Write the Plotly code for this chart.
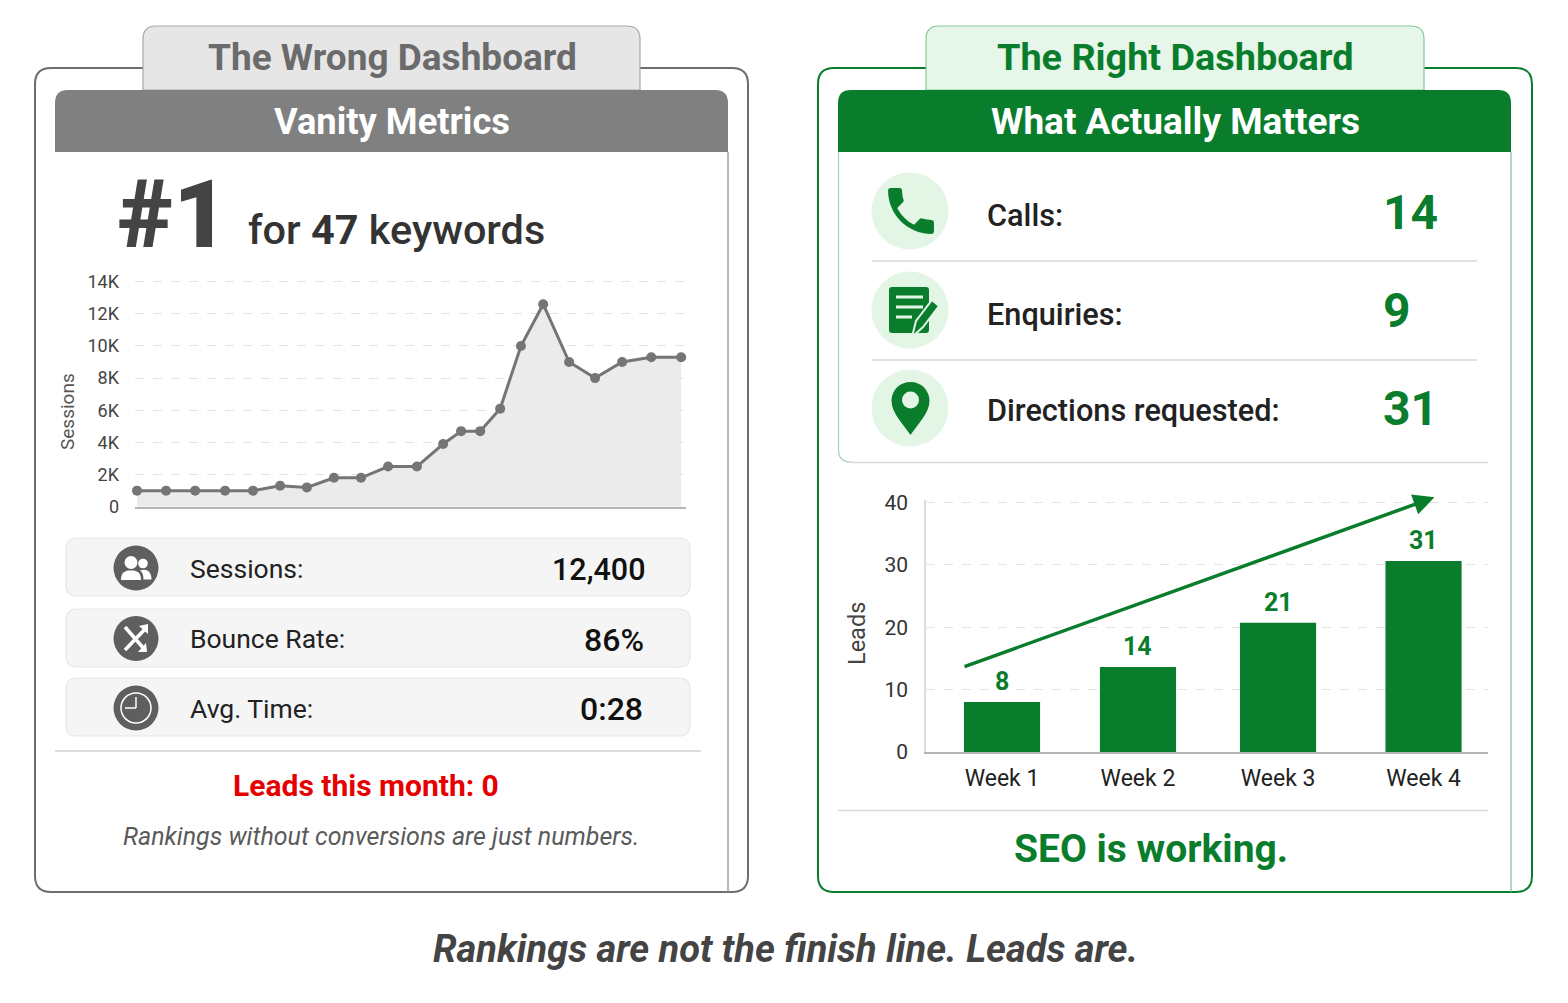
import re
import plotly.graph_objects as go

W, H = 1568, 1003

# ---- data ----
session_x = [0, 1.02, 2.04, 3.09, 4.07, 5.02, 5.96, 6.91, 7.86, 8.81, 9.82,
             10.74, 11.37, 12.04, 12.74, 13.47, 14.25, 15.16, 16.07, 17.02, 18.04, 19.09]
session_values = [1000, 1000, 1000, 1000, 1000, 1300, 1200, 1800, 1800, 2500, 2500,
                  3900, 4700, 4700, 6100, 10000, 12600, 9000, 8000, 9000, 9300, 9300]
session_ticks = [0, 2000, 4000, 6000, 8000, 10000, 12000, 14000]
session_ticktext = ["0", "2K", "4K", "6K", "8K", "10K", "12K", "14K"]

week_labels = ["Week 1", "Week 2", "Week 3", "Week 4"]
week_pos = [1, 2, 3.03, 4.1]
lead_heights = [8, 13.6, 20.7, 30.6]
lead_labels = ["8", "14", "21", "31"]
lead_ticks = [0, 10, 20, 30, 40]

left_rows = [("Sessions:", "12,400"), ("Bounce Rate:", "86%"), ("Avg. Time:", "0:28")]
right_rows = [("Calls:", "14"), ("Enquiries:", "9"), ("Directions requested:", "31")]

# ---- colours ----
GREEN = "#0a7d2c"
GREY = "#757575"
FONT = "Roboto"


def px(x):
    return x / W


def py(y):
    return 1 - y / H


def path(d):
    """Turn a path written in page pixels into one in paper coordinates."""
    toks = re.findall(r"[MLCQZ]|-?\d+\.?\d*", d)
    out, i = [], 0
    while i < len(toks):
        t = toks[i]
        if t in "MLCQZ":
            out.append(t)
            i += 1
        else:
            out.append(f"{px(float(t)):.5f},{py(float(toks[i + 1])):.5f}")
            i += 2
    return " ".join(out)


shapes = []


def add_path(d, fill=None, line=None, lw=1):
    shapes.append(dict(type="path", path=path(d), xref="paper", yref="paper", layer="below",
                       fillcolor=fill or "rgba(0,0,0,0)",
                       line=dict(color=line or "rgba(0,0,0,0)", width=lw if line else 0)))


def rrect(x0, y0, x1, y1, r, fill=None, line=None, lw=1, bottom=True):
    if bottom:
        d = (f"M{x0 + r} {y0} L{x1 - r} {y0} Q{x1} {y0} {x1} {y0 + r} L{x1} {y1 - r} "
             f"Q{x1} {y1} {x1 - r} {y1} L{x0 + r} {y1} Q{x0} {y1} {x0} {y1 - r} "
             f"L{x0} {y0 + r} Q{x0} {y0} {x0 + r} {y0} Z")
    else:
        d = (f"M{x0} {y1} L{x0} {y0 + r} Q{x0} {y0} {x0 + r} {y0} L{x1 - r} {y0} "
             f"Q{x1} {y0} {x1} {y0 + r} L{x1} {y1} Z")
    add_path(d, fill, line, lw)


def hline(x0, x1, y, color, lw=1.5):
    add_path(f"M{x0} {y} L{x1} {y}", None, color, lw)


def seg(x0, y0, x1, y1, color, lw=1.5):
    add_path(f"M{x0} {y0} L{x1} {y1}", None, color, lw)


def circle(cx, cy, r, fill=None, line=None, lw=1):
    shapes.append(dict(type="circle", xref="paper", yref="paper", layer="below",
                       x0=px(cx - r), x1=px(cx + r), y0=py(cy + r), y1=py(cy - r),
                       fillcolor=fill or "rgba(0,0,0,0)",
                       line=dict(color=line or "rgba(0,0,0,0)", width=lw if line else 0)))


annotations = []


def text(x, y, s, size, color, anchor="center", weight=400, italic=False, font=FONT, angle=0):
    annotations.append(dict(xref="paper", yref="paper", x=px(x), y=py(y), text=s, showarrow=False,
                            xanchor=anchor, yanchor="middle", align=anchor, textangle=angle,
                            font=dict(family=font, size=size, color=color, weight=weight,
                                      style="italic" if italic else "normal")))


# ---- left panel ----
rrect(35, 68, 748, 892, 16, "#ffffff", "#6e6e6e", 2)
seg(728, 152, 728, 892, "#8a8a8a", 1.2)
rrect(143, 26, 640, 90, 13, "#e6e6e6", "#a8a8a8", 1.2, bottom=False)
rrect(55, 90, 728, 152, 13, "#808080", None, bottom=False)
for y0, y1 in [(538, 596), (609, 667), (678, 736)]:
    rrect(66, y0, 690, y1, 11, "#f5f5f5", "#e8e8e8", 1.2)
hline(55, 701, 751, "#cfcfcf", 1.5)

DARK = "#5f5f5f"
for cy in (568, 638.5, 708):
    circle(136, cy, 22.5, DARK)
# people icon
circle(131, 562.5, 6.5, "#ffffff")
add_path("M121 580 C121 572 125 570.5 131 570.5 C137 570.5 141 572 141 580 Z", "#ffffff")
circle(143, 563.5, 4.8, "#ffffff")
add_path("M143.5 579.5 C143.5 575 142.5 572 140 570.5 C146 568.5 151.5 571 151.5 579.5 Z", "#ffffff")
# shuffle icon
seg(125, 627, 145, 650, "#ffffff", 3.5)
seg(147, 627, 125, 650, "#ffffff", 3.5)
add_path("M148 624 L148 634 L139 626 Z", "#ffffff")
add_path("M147 652 L138 652 L146 643 Z", "#ffffff")
# clock icon
circle(136, 708, 15, None, "#ffffff", 1.5)
seg(136, 697, 136, 708, "#ffffff", 1.5)
seg(136, 708, 125, 708, "#ffffff", 1.5)

# ---- right panel ----
rrect(818, 68, 1532, 892, 16, "#ffffff", GREEN, 2)
seg(1511, 152, 1511, 892, "#7fbd8f", 1.2)
rrect(926, 26, 1424, 90, 13, "#e6f6e8", "#86c795", 1.2, bottom=False)
rrect(838, 90, 1511, 152, 13, GREEN, None, bottom=False)
add_path("M838.5 152 L838.5 450 Q838.5 462 851 462", None, "#a6cfb1", 1.2)
hline(851, 1488, 462.5, "#d6d6d6", 1.5)
hline(872, 1477, 261, "#d9d9d9", 1.5)
hline(872, 1477, 360, "#d9d9d9", 1.5)
hline(838, 1488, 810.5, "#d9d9d9", 1.5)

LIGHT = "#e3f5e5"
for cy in (211, 310, 408):
    circle(910, cy, 38.5, LIGHT)


def phone(cx, cy, s):
    pts = ("M6.62 10.79 C8.06 13.62 10.38 15.93 13.21 17.38 L15.41 15.18 C15.68 14.91 16.08 14.82 "
           "16.43 14.94 C17.55 15.31 18.76 15.51 20 15.51 C20.55 15.51 21 15.96 21 16.51 L21 20 "
           "C21 20.55 20.55 21 20 21 C10.61 21 3 13.39 3 4 C3 3.45 3.45 3 4 3 L7.5 3 C8.05 3 8.5 "
           "3.45 8.5 4 C8.5 5.25 8.7 6.45 9.07 7.57 C9.18 7.92 9.1 8.31 8.82 8.59 Z")
    nums = iter(re.findall(r"[MLCZ]|-?\d+\.?\d*", pts))
    out = []
    for t in nums:
        if t in "MLCZ":
            out.append(t)
        else:
            out.append(f"{cx + (float(t) - 12) * s:.2f} {cy + (float(next(nums)) - 12) * s:.2f}")
    return " ".join(out)


add_path(phone(911, 211, 2.55), GREEN)
# document + pencil
rrect(889, 287, 929, 333, 3, GREEN)
for y, x1 in [(297, 923), (307, 923), (317, 912)]:
    seg(896, y, x1, y, LIGHT, 3)
add_path("M912 337 L916 321 L932 300 L939 306 L923 327 Z", GREEN, LIGHT, 2)
# pin
add_path("M891.5 401 C891.5 390 900 382 910.5 382 C921 382 929.5 390 929.5 401 "
         "C929.5 413 917 425 910.5 435 C904 425 891.5 413 891.5 401 Z", GREEN)
circle(910.5, 400, 8.5, LIGHT)

# ---- texts ----
text(392, 57, "The Wrong Dashboard", 37, "#6b6b6b", weight=700)
text(392, 121, "Vanity Metrics", 36.3, "#ffffff", weight=700)
text(1175, 57, "The Right Dashboard", 37.8, GREEN, weight=700)
text(1175, 121, "What Actually Matters", 37, "#ffffff", weight=700)
text(116, 214, "#1", 95, "#444444", anchor="left", weight=900)
text(246, 230, "for <b>47</b> keywords", 41.4, "#333333", anchor="left", weight=500)

for (lab, val), y, xr, size in zip(left_rows, (568, 638.5, 708), (648, 646, 645), (30.5, 32, 32)):
    text(188, y, lab, 26.5, "#222222", anchor="left")
    text(xr, y + 1, val, size, "#111111", anchor="right", weight=500)
text(366, 785, "Leads this month: 0", 30, "#e60000", weight=700)
text(381, 836, "Rankings without conversions are just numbers.", 25, "#5a5a5a", italic=True)
text(67, 412, "Sessions", 19, "#555555", angle=-90)

for (lab, val), y, yv in zip(right_rows, (215, 314, 410), (212, 311, 408)):
    text(985, y, lab, 30.7, "#222222", anchor="left", weight=500)
    text(1381, yv, val, 48, GREEN, anchor="left", weight=700)
text(857, 633, "Leads", 23.5, "#444444", angle=-90)
text(1151, 849, "SEO is working.", 39, GREEN, weight=700)
text(785, 949, "Rankings are not the finish line. Leads are.", 38, "#444444", weight=700, italic=True)

# ---- charts ----
fig = go.Figure()
fig.add_trace(go.Scatter(
    x=session_x, y=session_values, mode="lines+markers", fill="tozeroy",
    fillcolor="#ebebeb", line=dict(color=GREY, width=3), marker=dict(color=GREY, size=10),
    cliponaxis=False, xaxis="x", yaxis="y", showlegend=False, hoverinfo="skip"))
fig.add_trace(go.Bar(
    x=week_pos, y=lead_heights, width=0.56, marker=dict(color=GREEN, line=dict(width=0)),
    xaxis="x2", yaxis="y2", showlegend=False, hoverinfo="skip"))

for x, h, lab in zip(week_pos, lead_heights, lead_labels):
    annotations.append(dict(xref="x2", yref="y2", x=x, y=h, text=lab, showarrow=False,
                            yanchor="bottom", yshift=4,
                            font=dict(family=FONT, size=25, color=GREEN, weight=700)))
annotations.append(dict(xref="x2", yref="y2", axref="x2", ayref="y2",
                        x=4.18, y=40.8, ax=0.713, ay=13.6, text="", showarrow=True,
                        arrowhead=2, arrowsize=1.2, arrowwidth=3.5, arrowcolor=GREEN))

fig.update_layout(
    width=W, height=H, margin=dict(l=0, r=0, t=0, b=0), autosize=False,
    paper_bgcolor="#ffffff", plot_bgcolor="rgba(0,0,0,0)", showlegend=False,
    font=dict(family=FONT, color="#333333"),
    shapes=shapes, annotations=annotations,
    xaxis=dict(domain=[px(135), px(686)], range=[-0.07, 19.26], showgrid=False, zeroline=False,
               showticklabels=False, ticks="", showline=True, linecolor="#b5b5b5", linewidth=2,
               anchor="y", automargin=False),
    yaxis=dict(domain=[py(506.7), py(279.7)], range=[0, 14124], tickvals=session_ticks,
               ticktext=session_ticktext, tickfont=dict(family=FONT, size=18, color="#444444"),
               showgrid=True, gridcolor="#e3e3e3", griddash="dash", gridwidth=1.2,
               zeroline=False, ticks="", ticklabelstandoff=15, anchor="x", automargin=False),
    xaxis2=dict(domain=[px(926), px(1488)], range=[0.441, 4.574], tickvals=week_pos,
                ticktext=week_labels, tickfont=dict(family=FONT, size=23, color="#222222"),
                showgrid=False, zeroline=False, ticks="", ticklabelstandoff=4, showline=True,
                linecolor="#b5b5b5", linewidth=2, anchor="y2", automargin=False),
    yaxis2=dict(domain=[py(752), py(500.3)], range=[0, 40.32], tickvals=lead_ticks,
                tickfont=dict(family=FONT, size=21, color="#333333"),
                showgrid=True, gridcolor="#e3e3e3", griddash="dash", gridwidth=1.2,
                zeroline=False, ticks="", ticklabelstandoff=12, showline=True,
                linecolor="#dddddd", linewidth=1.5, anchor="x2", automargin=False),
)

fig.write_html("out.html", config={"displayModeBar": False},
               post_script="document.body.style.margin='0';document.body.style.overflow='hidden';")
